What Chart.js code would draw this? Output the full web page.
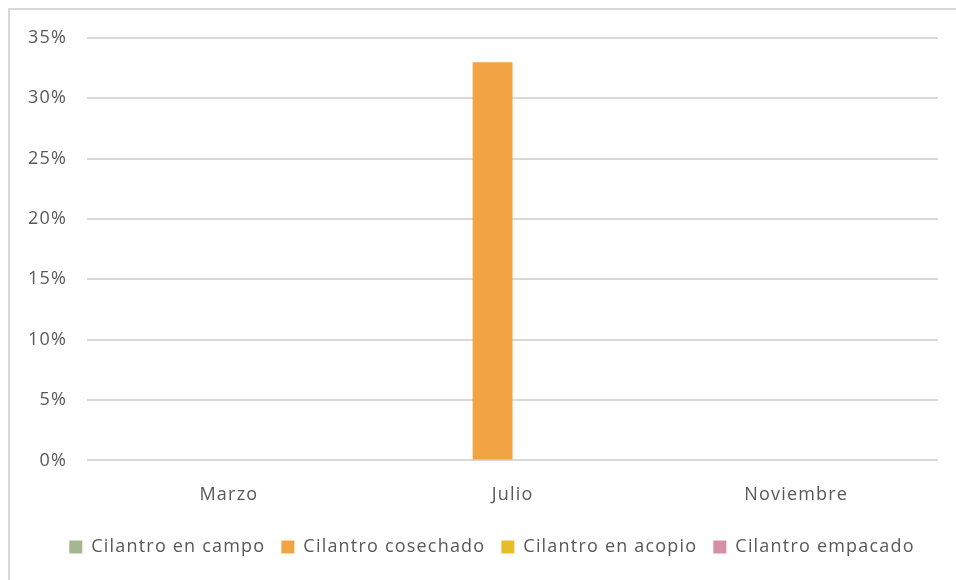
<!DOCTYPE html>
<html lang="es">
<head>
<meta charset="UTF-8">
<title>Cilantro por etapa</title>
<script src="https://cdn.jsdelivr.net/npm/chart.js"></script>
<style>
    body { margin: 0; background: #fff; }
    #wrap { position: relative; width: 956px; height: 580px; overflow: hidden; }
    #frame { position: absolute; left: 8px; top: 8px; width: 980px; height: 600px; border: 2px solid #d9d9d9; box-sizing: border-box; }
    canvas { position: absolute; left: 0; top: 0; }
</style>
</head>
<body>
<div id="wrap">
    <div id="frame"></div>
    <canvas id="chart" width="956" height="580"></canvas>
</div>
<script>
    // meses y porcentajes por etapa
    const meses = ['Marzo', 'Julio', 'Noviembre'];
    const enCampo = [0, 0, 0];
    const cosechado = [0, 0.33, 0];
    const enAcopio = [0, 0, 0];
    const empacado = [0, 0, 0];

    const gris = '#595959';
    const fuente = { family: 'Open Sans', size: 18 };

    // el tamaño del canvas reinicia el contexto, así que el espaciado se fija en cada paso
    const espaciado = {
        id: 'espaciado',
        beforeUpdate(chart) { chart.ctx.letterSpacing = '1.2px'; },
        beforeLayout(chart) { chart.ctx.letterSpacing = '1.2px'; },
        beforeDraw(chart) { chart.ctx.letterSpacing = '1.2px'; },
        // la leyenda va un poco a la derecha del centro
        afterLayout(chart) {
            chart.legend.left += 19;
            chart.legend.right += 19;
        }
    };

    new Chart(document.getElementById('chart'), {
        type: 'bar',
        data: {
            labels: meses,
            datasets: [
                { label: 'Cilantro en campo', data: enCampo, backgroundColor: '#a5b78c' },
                { label: 'Cilantro cosechado', data: cosechado, backgroundColor: '#f2a444' },
                { label: 'Cilantro en acopio', data: enAcopio, backgroundColor: '#e8bd2c' },
                { label: 'Cilantro empacado', data: empacado, backgroundColor: '#d68fa8' }
            ]
        },
        plugins: [espaciado],
        options: {
            responsive: false,
            animation: false,
            categoryPercentage: 0.5625,
            barPercentage: 1,
            layout: { padding: { left: 8, right: 18, top: 38, bottom: 14 } },
            plugins: {
                tooltip: { enabled: false },
                legend: {
                    position: 'bottom',
                    labels: {
                        color: gris,
                        font: fuente,
                        boxWidth: 13,
                        boxHeight: 13,
                        padding: 16
                    }
                }
            },
            scales: {
                x: {
                    grid: { display: false },
                    border: { display: false },
                    ticks: { color: gris, font: fuente, padding: 16 }
                },
                y: {
                    min: 0,
                    max: 0.35,
                    grid: { color: '#d9d9d9', lineWidth: 2, drawTicks: false },
                    border: { display: false },
                    ticks: {
                        stepSize: 0.05,
                        color: gris,
                        font: fuente,
                        padding: 20,
                        callback: v => Math.round(v * 100) + '%'
                    }
                }
            }
        }
    });
</script>
</body>
</html>
